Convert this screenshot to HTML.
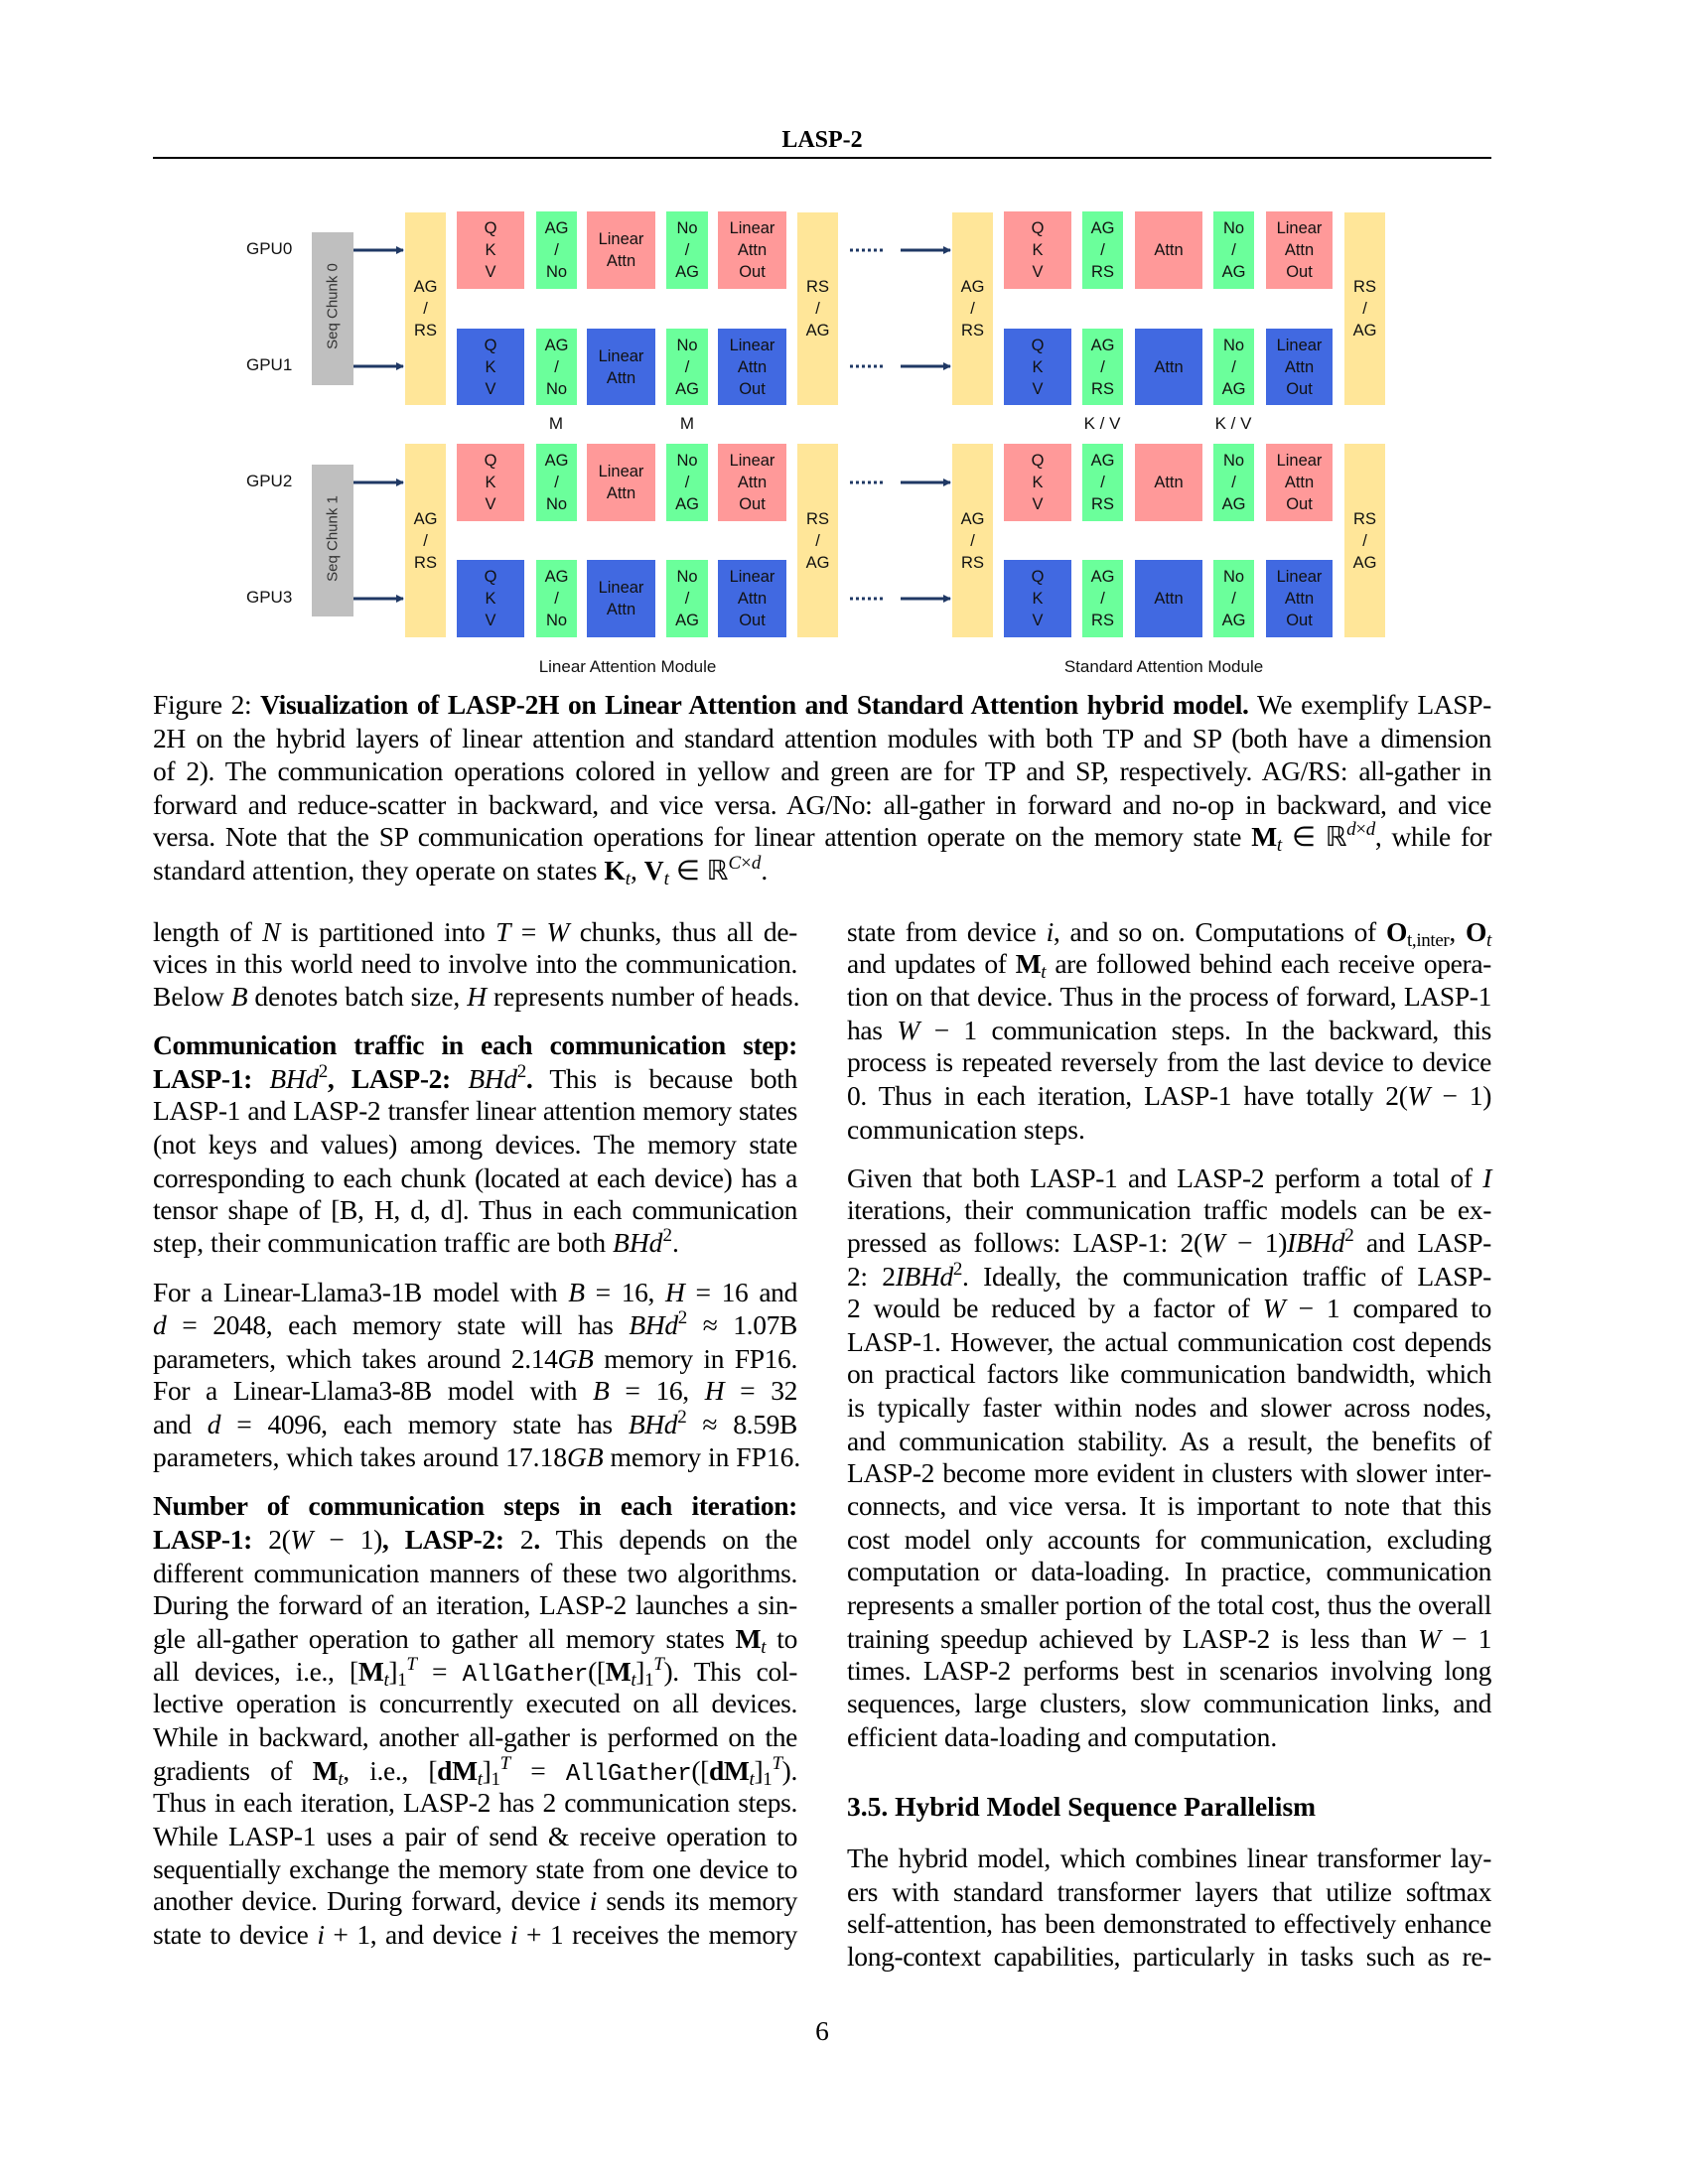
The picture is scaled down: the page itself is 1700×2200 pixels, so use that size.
<!DOCTYPE html>
<html><head><meta charset="utf-8">
<style>
body{margin:0;background:#fff;}
#p{position:relative;width:1700px;height:2200px;overflow:hidden;background:#fff;font-family:"Liberation Serif",serif;color:#000;}
.b{position:absolute;display:flex;flex-direction:column;justify-content:center;align-items:center;font-family:"Liberation Sans",sans-serif;font-size:16.5px;line-height:22px;color:#111;text-align:center;}
.pk{background:#FF9999;}.gr{background:#6BFF9B;}.bl{background:#4169E1;}.yl{background:#FFE699;}
.gy{position:absolute;background:#BFBFBF;}
.lab{position:absolute;font-family:"Liberation Sans",sans-serif;font-size:17px;color:#111;}
.t{position:absolute;font-size:27.5px;line-height:33px;white-space:nowrap;}
.L{left:154px;width:649px;}
.R{left:853px;width:649px;}
.C{left:154px;width:1348px;}
.j{text-align:justify;text-align-last:justify;white-space:normal;letter-spacing:-0.35px;word-spacing:-3px;height:33px;overflow:visible;}
i{font-style:italic;}
sup{font-size:19px;line-height:0;vertical-align:11px;}
sub{font-size:19px;line-height:0;vertical-align:-5px;}
.m{font-family:"Liberation Mono",monospace;font-size:24px;}
</style></head><body><div id="p">

<div class="t" style="left:0;width:1656px;text-align:center;top:125px;font-weight:bold;font-size:24px;">LASP-2</div>
<div style="position:absolute;left:154px;top:158px;width:1348px;height:2px;background:#000;"></div>

<svg style="position:absolute;left:0;top:0" width="1700" height="700">
<defs><marker id="a" markerWidth="8" markerHeight="8" refX="7" refY="4" orient="auto" markerUnits="userSpaceOnUse"><path d="M0,0 L8,4 L0,8 z" fill="#1F3864"/></marker></defs>
<g stroke="#1F3864" stroke-width="3" marker-end="url(#a)">
<line x1="356" y1="252" x2="406" y2="252"/><line x1="356" y1="369" x2="406" y2="369"/>
<line x1="356" y1="486" x2="406" y2="486"/><line x1="356" y1="603" x2="406" y2="603"/>
<line x1="907" y1="252" x2="957" y2="252"/><line x1="907" y1="369" x2="957" y2="369"/>
<line x1="907" y1="486" x2="957" y2="486"/><line x1="907" y1="603" x2="957" y2="603"/>
</g>
<g stroke="#1F3864" stroke-width="3" stroke-dasharray="3,3">
<line x1="856" y1="252" x2="892" y2="252"/><line x1="856" y1="369" x2="892" y2="369"/>
<line x1="856" y1="486" x2="892" y2="486"/><line x1="856" y1="603" x2="892" y2="603"/>
</g>
</svg>

<div class="lab" style="left:248px;top:241px;">GPU0</div>
<div class="lab" style="left:248px;top:358px;">GPU1</div>
<div class="lab" style="left:248px;top:475px;">GPU2</div>
<div class="lab" style="left:248px;top:592px;">GPU3</div>

<div class="gy" style="left:314px;top:234px;width:42px;height:154px;"></div>
<div class="gy" style="left:314px;top:468px;width:42px;height:153px;"></div>
<div class="lab" style="left:285px;top:300px;width:100px;text-align:center;transform:rotate(-90deg);font-size:15px;color:#333;">Seq Chunk 0</div>
<div class="lab" style="left:285px;top:534px;width:100px;text-align:center;transform:rotate(-90deg);font-size:15px;color:#333;">Seq Chunk 1</div>

<div class="b yl" style="left:408px;top:214px;width:41px;height:194px;">AG<br>/<br>RS</div>
<div class="b pk" style="left:460px;top:213px;width:68px;height:78px;">Q<br>K<br>V</div>
<div class="b gr" style="left:540px;top:213px;width:41px;height:78px;">AG<br>/<br>No</div>
<div class="b pk" style="left:591px;top:213px;width:69px;height:78px;">Linear<br>Attn</div>
<div class="b gr" style="left:671px;top:213px;width:42px;height:78px;">No<br>/<br>AG</div>
<div class="b pk" style="left:723px;top:213px;width:69px;height:78px;">Linear<br>Attn<br>Out</div>
<div class="b bl" style="left:460px;top:331px;width:68px;height:77px;">Q<br>K<br>V</div>
<div class="b gr" style="left:540px;top:331px;width:41px;height:77px;">AG<br>/<br>No</div>
<div class="b bl" style="left:591px;top:331px;width:69px;height:77px;">Linear<br>Attn</div>
<div class="b gr" style="left:671px;top:331px;width:42px;height:77px;">No<br>/<br>AG</div>
<div class="b bl" style="left:723px;top:331px;width:69px;height:77px;">Linear<br>Attn<br>Out</div>
<div class="b yl" style="left:803px;top:214px;width:41px;height:194px;">RS<br>/<br>AG</div>

<div class="b yl" style="left:408px;top:447px;width:41px;height:195px;">AG<br>/<br>RS</div>
<div class="b pk" style="left:460px;top:447px;width:68px;height:78px;">Q<br>K<br>V</div>
<div class="b gr" style="left:540px;top:447px;width:41px;height:78px;">AG<br>/<br>No</div>
<div class="b pk" style="left:591px;top:447px;width:69px;height:78px;">Linear<br>Attn</div>
<div class="b gr" style="left:671px;top:447px;width:42px;height:78px;">No<br>/<br>AG</div>
<div class="b pk" style="left:723px;top:447px;width:69px;height:78px;">Linear<br>Attn<br>Out</div>
<div class="b bl" style="left:460px;top:564px;width:68px;height:78px;">Q<br>K<br>V</div>
<div class="b gr" style="left:540px;top:564px;width:41px;height:78px;">AG<br>/<br>No</div>
<div class="b bl" style="left:591px;top:564px;width:69px;height:78px;">Linear<br>Attn</div>
<div class="b gr" style="left:671px;top:564px;width:42px;height:78px;">No<br>/<br>AG</div>
<div class="b bl" style="left:723px;top:564px;width:69px;height:78px;">Linear<br>Attn<br>Out</div>
<div class="b yl" style="left:803px;top:447px;width:41px;height:195px;">RS<br>/<br>AG</div>

<div class="b yl" style="left:959px;top:214px;width:41px;height:194px;">AG<br>/<br>RS</div>
<div class="b pk" style="left:1011px;top:213px;width:68px;height:78px;">Q<br>K<br>V</div>
<div class="b gr" style="left:1090px;top:213px;width:41px;height:78px;">AG<br>/<br>RS</div>
<div class="b pk" style="left:1143px;top:213px;width:68px;height:78px;">Attn</div>
<div class="b gr" style="left:1222px;top:213px;width:41px;height:78px;">No<br>/<br>AG</div>
<div class="b pk" style="left:1275px;top:213px;width:67px;height:78px;">Linear<br>Attn<br>Out</div>
<div class="b bl" style="left:1011px;top:331px;width:68px;height:77px;">Q<br>K<br>V</div>
<div class="b gr" style="left:1090px;top:331px;width:41px;height:77px;">AG<br>/<br>RS</div>
<div class="b bl" style="left:1143px;top:331px;width:68px;height:77px;">Attn</div>
<div class="b gr" style="left:1222px;top:331px;width:41px;height:77px;">No<br>/<br>AG</div>
<div class="b bl" style="left:1275px;top:331px;width:67px;height:77px;">Linear<br>Attn<br>Out</div>
<div class="b yl" style="left:1354px;top:214px;width:41px;height:194px;">RS<br>/<br>AG</div>

<div class="b yl" style="left:959px;top:447px;width:41px;height:195px;">AG<br>/<br>RS</div>
<div class="b pk" style="left:1011px;top:447px;width:68px;height:78px;">Q<br>K<br>V</div>
<div class="b gr" style="left:1090px;top:447px;width:41px;height:78px;">AG<br>/<br>RS</div>
<div class="b pk" style="left:1143px;top:447px;width:68px;height:78px;">Attn</div>
<div class="b gr" style="left:1222px;top:447px;width:41px;height:78px;">No<br>/<br>AG</div>
<div class="b pk" style="left:1275px;top:447px;width:67px;height:78px;">Linear<br>Attn<br>Out</div>
<div class="b bl" style="left:1011px;top:564px;width:68px;height:78px;">Q<br>K<br>V</div>
<div class="b gr" style="left:1090px;top:564px;width:41px;height:78px;">AG<br>/<br>RS</div>
<div class="b bl" style="left:1143px;top:564px;width:68px;height:78px;">Attn</div>
<div class="b gr" style="left:1222px;top:564px;width:41px;height:78px;">No<br>/<br>AG</div>
<div class="b bl" style="left:1275px;top:564px;width:67px;height:78px;">Linear<br>Attn<br>Out</div>
<div class="b yl" style="left:1354px;top:447px;width:41px;height:195px;">RS<br>/<br>AG</div>

<div class="lab" style="left:530px;top:417px;width:60px;text-align:center;">M</div>
<div class="lab" style="left:662px;top:417px;width:60px;text-align:center;">M</div>
<div class="lab" style="left:1080px;top:417px;width:60px;text-align:center;">K / V</div>
<div class="lab" style="left:1212px;top:417px;width:60px;text-align:center;">K / V</div>
<div class="lab" style="left:482px;top:662px;width:300px;text-align:center;font-size:17px;">Linear Attention Module</div>
<div class="lab" style="left:1022px;top:662px;width:300px;text-align:center;font-size:17px;">Standard Attention Module</div>

<div class="t C j" style="top:693px;">Figure 2: <b>Visualization of LASP-2H on Linear Attention and Standard Attention hybrid model.</b> We exemplify LASP-</div>
<div class="t C j" style="top:727px;">2H on the hybrid layers of linear attention and standard attention modules with both TP and SP (both have a dimension</div>
<div class="t C j" style="top:760px;">of 2). The communication operations colored in yellow and green are for TP and SP, respectively. AG/RS: all-gather in</div>
<div class="t C j" style="top:794px;">forward and reduce-scatter in backward, and vice versa. AG/No: all-gather in forward and no-op in backward, and vice</div>
<div class="t C j" style="top:826px;">versa. Note that the SP communication operations for linear attention operate on the memory state <b>M</b><sub><i>t</i></sub> ∈ ℝ<sup><i>d</i>×<i>d</i></sup>, while for</div>
<div class="t C" style="top:860px;">standard attention, they operate on states <b>K</b><sub><i>t</i></sub>, <b>V</b><sub><i>t</i></sub> ∈ ℝ<sup><i>C</i>×<i>d</i></sup>.</div>

<div class="t L j" style="top:922px;">length of <i>N</i> is partitioned into <i>T</i> = <i>W</i> chunks, thus all de-</div>
<div class="t L j" style="top:954px;">vices in this world need to involve into the communication.</div>
<div class="t L" style="top:987px;">Below <i>B</i> denotes batch size, <i>H</i> represents number of heads.</div>

<div class="t L j" style="top:1036px;"><b>Communication traffic in each communication step:</b></div>
<div class="t L j" style="top:1070px;"><b>LASP-1:</b> <i>BHd</i><sup>2</sup><b>, LASP-2:</b> <i>BHd</i><sup>2</sup><b>.</b> This is because both</div>
<div class="t L j" style="top:1102px;">LASP-1 and LASP-2 transfer linear attention memory states</div>
<div class="t L j" style="top:1136px;">(not keys and values) among devices. The memory state</div>
<div class="t L j" style="top:1170px;">corresponding to each chunk (located at each device) has a</div>
<div class="t L j" style="top:1202px;">tensor shape of [B, H, d, d]. Thus in each communication</div>
<div class="t L" style="top:1235px;">step, their communication traffic are both <i>BHd</i><sup>2</sup>.</div>

<div class="t L j" style="top:1285px;">For a Linear-Llama3-1B model with <i>B</i> = 16, <i>H</i> = 16 and</div>
<div class="t L j" style="top:1318px;"><i>d</i> = 2048, each memory state will has <i>BHd</i><sup>2</sup> ≈ 1.07B</div>
<div class="t L j" style="top:1352px;">parameters, which takes around 2.14<i>GB</i> memory in FP16.</div>
<div class="t L j" style="top:1384px;">For a Linear-Llama3-8B model with <i>B</i> = 16, <i>H</i> = 32</div>
<div class="t L j" style="top:1418px;">and <i>d</i> = 4096, each memory state has <i>BHd</i><sup>2</sup> ≈ 8.59B</div>
<div class="t L" style="top:1451px;">parameters, which takes around 17.18<i>GB</i> memory in FP16.</div>

<div class="t L j" style="top:1500px;"><b>Number of communication steps in each iteration:</b></div>
<div class="t L j" style="top:1534px;"><b>LASP-1:</b> 2(<i>W</i> − 1)<b>, LASP-2:</b> 2<b>.</b> This depends on the</div>
<div class="t L j" style="top:1568px;">different communication manners of these two algorithms.</div>
<div class="t L j" style="top:1600px;">During the forward of an iteration, LASP-2 launches a sin-</div>
<div class="t L j" style="top:1634px;">gle all-gather operation to gather all memory states <b>M</b><sub><i>t</i></sub> to</div>
<div class="t L j" style="top:1667px;">all devices, i.e., [<b>M</b><sub><i>t</i></sub>]<sub>1</sub><sup><i>T</i></sup> = <span class="m">AllGather</span>([<b>M</b><sub><i>t</i></sub>]<sub>1</sub><sup><i>T</i></sup>). This col-</div>
<div class="t L j" style="top:1699px;">lective operation is concurrently executed on all devices.</div>
<div class="t L j" style="top:1733px;">While in backward, another all-gather is performed on the</div>
<div class="t L j" style="top:1767px;">gradients of <b>M</b><sub><i>t</i></sub>, i.e., [<b>dM</b><sub><i>t</i></sub>]<sub>1</sub><sup><i>T</i></sup> = <span class="m">AllGather</span>([<b>dM</b><sub><i>t</i></sub>]<sub>1</sub><sup><i>T</i></sup>).</div>
<div class="t L j" style="top:1799px;">Thus in each iteration, LASP-2 has 2 communication steps.</div>
<div class="t L j" style="top:1833px;">While LASP-1 uses a pair of send &amp; receive operation to</div>
<div class="t L j" style="top:1866px;">sequentially exchange the memory state from one device to</div>
<div class="t L j" style="top:1898px;">another device. During forward, device <i>i</i> sends its memory</div>
<div class="t L j" style="top:1932px;">state to device <i>i</i> + 1, and device <i>i</i> + 1 receives the memory</div>

<div class="t R j" style="top:922px;">state from device <i>i</i>, and so on. Computations of <b>O</b><sub>t,inter</sub>, <b>O</b><sub><i>t</i></sub></div>
<div class="t R j" style="top:954px;">and updates of <b>M</b><sub><i>t</i></sub> are followed behind each receive opera-</div>
<div class="t R j" style="top:987px;">tion on that device. Thus in the process of forward, LASP-1</div>
<div class="t R j" style="top:1021px;">has <i>W</i> − 1 communication steps. In the backward, this</div>
<div class="t R j" style="top:1053px;">process is repeated reversely from the last device to device</div>
<div class="t R j" style="top:1087px;">0. Thus in each iteration, LASP-1 have totally 2(<i>W</i> − 1)</div>
<div class="t R" style="top:1121px;">communication steps.</div>

<div class="t R j" style="top:1170px;">Given that both LASP-1 and LASP-2 perform a total of <i>I</i></div>
<div class="t R j" style="top:1202px;">iterations, their communication traffic models can be ex-</div>
<div class="t R j" style="top:1235px;">pressed as follows: LASP-1: 2(<i>W</i> − 1)<i>IBHd</i><sup>2</sup> and LASP-</div>
<div class="t R j" style="top:1269px;">2: 2<i>IBHd</i><sup>2</sup>. Ideally, the communication traffic of LASP-</div>
<div class="t R j" style="top:1301px;">2 would be reduced by a factor of <i>W</i> − 1 compared to</div>
<div class="t R j" style="top:1335px;">LASP-1. However, the actual communication cost depends</div>
<div class="t R j" style="top:1367px;">on practical factors like communication bandwidth, which</div>
<div class="t R j" style="top:1401px;">is typically faster within nodes and slower across nodes,</div>
<div class="t R j" style="top:1435px;">and communication stability. As a result, the benefits of</div>
<div class="t R j" style="top:1467px;">LASP-2 become more evident in clusters with slower inter-</div>
<div class="t R j" style="top:1500px;">connects, and vice versa. It is important to note that this</div>
<div class="t R j" style="top:1534px;">cost model only accounts for communication, excluding</div>
<div class="t R j" style="top:1566px;">computation or data-loading. In practice, communication</div>
<div class="t R j" style="top:1600px;">represents a smaller portion of the total cost, thus the overall</div>
<div class="t R j" style="top:1634px;">training speedup achieved by LASP-2 is less than <i>W</i> − 1</div>
<div class="t R j" style="top:1666px;">times. LASP-2 performs best in scenarios involving long</div>
<div class="t R j" style="top:1699px;">sequences, large clusters, slow communication links, and</div>
<div class="t R" style="top:1733px;">efficient data-loading and computation.</div>

<div class="t R" style="top:1803px;font-weight:bold;">3.5. Hybrid Model Sequence Parallelism</div>
<div class="t R j" style="top:1855px;">The hybrid model, which combines linear transformer lay-</div>
<div class="t R j" style="top:1889px;">ers with standard transformer layers that utilize softmax</div>
<div class="t R j" style="top:1921px;">self-attention, has been demonstrated to effectively enhance</div>
<div class="t R j" style="top:1954px;">long-context capabilities, particularly in tasks such as re-</div>

<div class="t" style="left:0;width:1656px;text-align:center;top:2029px;">6</div>
</div></body></html>
